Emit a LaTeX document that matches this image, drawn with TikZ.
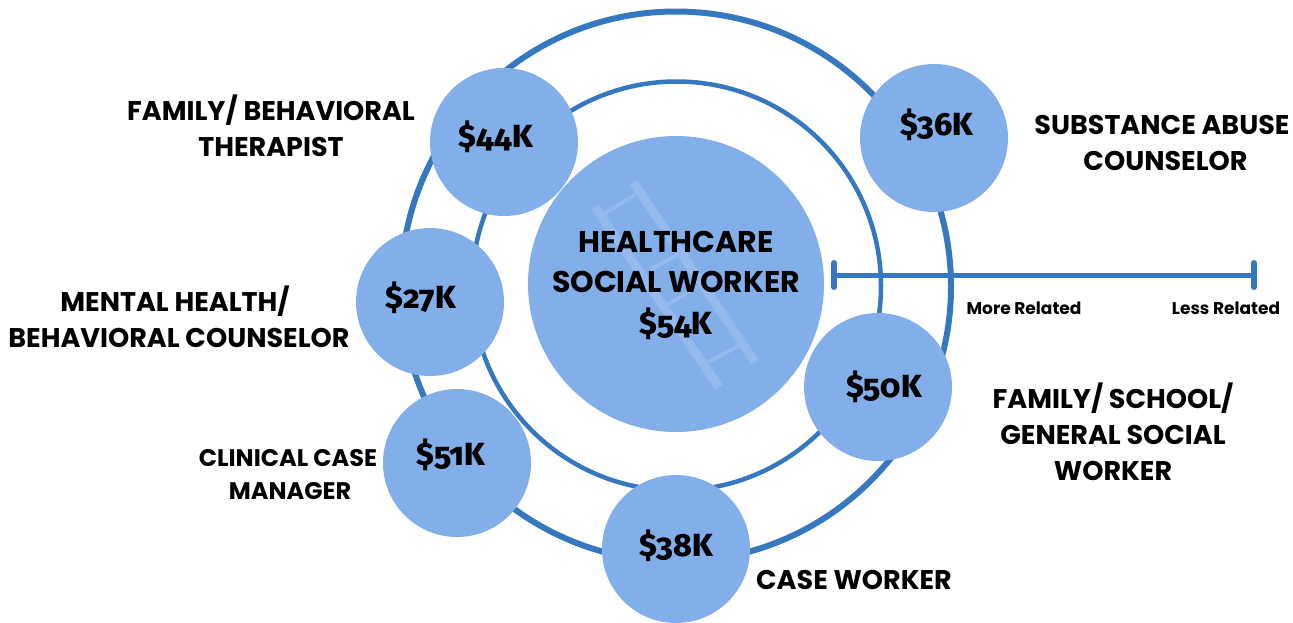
\documentclass[tikz,border=0pt]{standalone}
\usepackage{fontspec}
\setmainfont{Poppins}
\newfontfamily\moneyfont[Numbers=OldStyle,BoldFont={Fira Sans ExtraBold}]{Fira Sans}
\usetikzlibrary{arrows.meta, positioning}
\definecolor{ringblue}{HTML}{3578C0}
\definecolor{bubbleblue}{HTML}{82AEE9}
\definecolor{ladderblue}{HTML}{94BAEE}

\begin{document}
\begin{tikzpicture}[
        x=1pt, y=-1pt,
        ring/.style={circle, draw=ringblue, inner sep=0pt},
        bubble/.style={circle, fill=bubbleblue, inner sep=0pt, minimum size=148pt},
        money/.style={font=\moneyfont\bfseries\fontsize{32}{32}\selectfont},
        jobname/.style={align=center, font=\bfseries\fontsize{27}{36}\selectfont},
        smallname/.style={align=center, font=\bfseries\fontsize{24}{33}\selectfont},
        scalelabel/.style={font=\bfseries\fontsize{17}{20}\selectfont},
        rail/.style={ladderblue, line width=9pt},
        rung/.style={ladderblue, line width=4pt},
        axisline/.style={ringblue, line width=5pt, {Bar[width=24pt,line width=6pt,round]}-{Bar[width=24pt,line width=6pt,round]}}
    ]
        \useasboundingbox (0,0) rectangle (1293,622);
        \node[ring, line width=6pt, minimum size=550pt] (outer) at (676,286.5) {};
        \node[ring, line width=4.5pt, minimum size=409pt] (inner) at (676.5,286) {};

        \node[circle, fill=bubbleblue, inner sep=0pt, minimum size=296pt] (centre) at (676,284) {};
        % ladder
        \draw[rung] (605,213) -- (635,195);
        \draw[rung] (650,270) -- (680,253);
        \draw[rung] (667,305) -- (697,287);
        \draw[rung] (708,362) -- (740,345);
        \draw[rail] (633,182) -- (755,362);
        \draw[rail] (595,207) -- (719,387);
        \node[align=center, font=\bfseries\fontsize{30}{40}\selectfont] (centretext) at (676,285) {HEALTHCARE\\SOCIAL WORKER\\[2pt]{\moneyfont\bfseries\fontsize{32}{40}\selectfont\$54K}};

        \node[bubble] (therapist) at (504,142) {};
        \node[bubble] (counselor) at (934,138) {};
        \node[bubble] (mental) at (430,302) {};
        \node[bubble] (school) at (878,387) {};
        \node[bubble] (clinical) at (457,463) {};
        \node[bubble] (caseworker) at (676,549) {};

        \node[money] at (496,137) {\$44K};
        \node[money] at (937,125) {\$36K};
        \node[money] at (421,298) {\$27K};
        \node[money] at (884,387) {\$50K};
        \node[money] at (451,455) {\$51K};
        \node[money] at (676,546) {\$38K};

        \node[jobname] (therapistname) at (271,126) {FAMILY/ BEHAVIORAL\\THERAPIST};
        \node[jobname] (abusename) at (1162,143) {SUBSTANCE ABUSE\\\hspace*{7pt}COUNSELOR};
        \node[jobname] (mentalname) at (179,317) {MENTAL HEALTH/\hspace*{8pt}\\BEHAVIORAL COUNSELOR};
        \node[jobname] (schoolname) at (1113,432) {FAMILY/ SCHOOL/\\GENERAL SOCIAL\\WORKER};
        \node[smallname] (clinicalname) at (288,475) {CLINICAL CASE\\\hspace*{4pt}MANAGER};
        \node[jobname] (casename) at (854,580) {CASE WORKER};

        \coordinate (more) at (831,275);
        \coordinate (less) at (1257,275);
        \draw[axisline] (more) -- (less);
        \node[scalelabel] (morelabel) at (1024,308) {More Related};
        \node[scalelabel] (lesslabel) at (1226,308) {Less Related};
    \end{tikzpicture}
\end{document}
